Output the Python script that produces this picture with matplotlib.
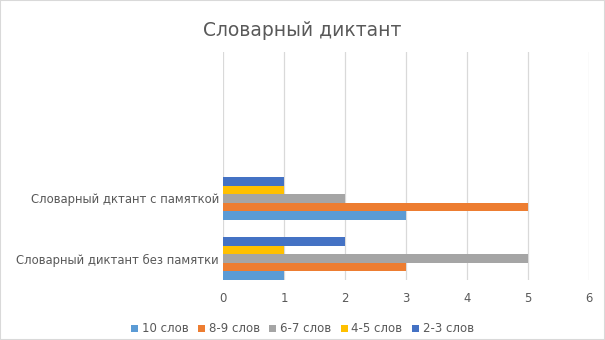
import numpy as np
import matplotlib.pyplot as plt
from matplotlib.patches import Rectangle

categories = ["Словарный диктант без памятки", "Словарный дктант с памяткой"]
series = ["10 слов", "8-9 слов", "6-7 слов", "4-5 слов", "2-3 слов"]
values = {
    "10 слов": [1, 3],
    "8-9 слов": [3, 5],
    "6-7 слов": [5, 2],
    "4-5 слов": [1, 1],
    "2-3 слов": [2, 1],
}
colors = ["#5B9BD5", "#ED7D31", "#A5A5A5", "#FFC000", "#4472C4"]
text_color = "#595959"

fig = plt.figure(figsize=(6.05, 3.4), dpi=100)
ax = fig.add_axes([223 / 605, 1 - 280 / 340, 366 / 605, 228 / 340])

y = np.arange(len(categories))
h = 0.143
for i, (name, c) in enumerate(zip(series, colors)):
    ax.barh(y + (i - 2) * h, values[name], height=h, color=c, label=name, zorder=3)

ax.set_xlim(0, 6)
ax.set_ylim(-0.358, 3.44)
ax.set_xticks(range(7))
ax.set_yticks(y)
ax.set_yticklabels(categories)
ax.grid(axis="x", color="#D9D9D9", linewidth=0.9, zorder=0)
for s in ax.spines.values():
    s.set_visible(False)
ax.tick_params(length=0, labelsize=8.4, colors=text_color)
ax.tick_params(axis="y", pad=3)
ax.tick_params(axis="x", pad=8.5)

fig.text(0.5, 1 - 30 / 340, "Словарный диктант", ha="center", va="center",
         fontsize=13.5, color=text_color)

handles, labels = ax.get_legend_handles_labels()
fig.legend(handles, labels, loc="center", bbox_to_anchor=(0.5, 1 - 329 / 340),
           ncol=5, frameon=False, fontsize=8.5, handlelength=0.6, handleheight=0.6,
           handletextpad=0.3, columnspacing=0.8, labelcolor=text_color)

fig.patches.append(Rectangle((0, 0), 1, 1, transform=fig.transFigure,
                             fill=False, edgecolor="#D9D9D9", linewidth=1.5))

fig.savefig("out.png", dpi=100, facecolor="white")
